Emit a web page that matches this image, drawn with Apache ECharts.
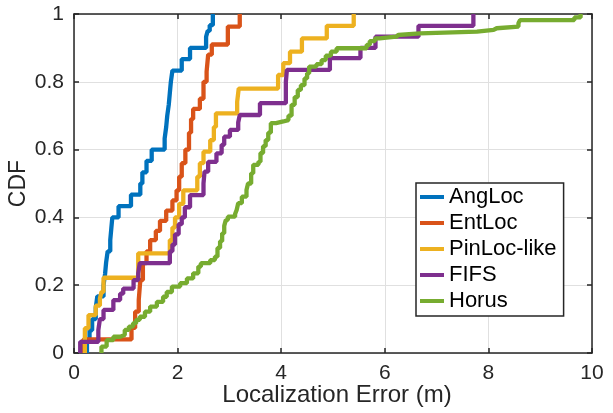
<!DOCTYPE html>
<html>
<head>
<meta charset="utf-8">
<script src="https://cdn.jsdelivr.net/npm/echarts@6/dist/echarts.min.js"></script>
<style>html,body{margin:0;padding:0;background:#fff;}#chart{width:613px;height:413px;}</style>
</head>
<body>
<div id="chart"></div>
<script>
var seriesNames = ['AngLoc', 'EntLoc', 'PinLoc-like', 'FIFS', 'Horus'];
var xTicks = [0, 2, 4, 6, 8, 10];
var yTicks = [0, 0.2, 0.4, 0.6, 0.8, 1];

var angLocX = [0.25, 0.25, 0.30, 0.35, 0.42, 0.45, 0.57, 0.60, 0.62, 0.65, 0.70, 0.72, 0.74, 0.86, 1.10, 1.28, 1.32, 1.40, 1.50, 1.75, 1.78, 1.80, 1.83, 1.85, 1.87, 1.90, 2.08, 2.24, 2.55, 2.58, 2.62, 2.68];
var angLocY = [0, 0.033, 0.067, 0.100, 0.133, 0.167, 0.200, 0.233, 0.267, 0.300, 0.333, 0.367, 0.400, 0.433, 0.467, 0.500, 0.533, 0.567, 0.600, 0.633, 0.667, 0.700, 0.733, 0.767, 0.800, 0.833, 0.867, 0.900, 0.933, 0.950, 0.967, 1.0];

var entLocX = [0.18, 0.18, 1.11, 1.18, 1.25, 1.28, 1.33, 1.40, 1.47, 1.58, 1.66, 1.78, 1.90, 1.98, 2.03, 2.08, 2.15, 2.22, 2.26, 2.30, 2.43, 2.50, 2.56, 2.59, 2.66, 2.97, 3.20];
var entLocY = [0, 0.040, 0.074, 0.122, 0.156, 0.215, 0.265, 0.300, 0.333, 0.360, 0.390, 0.420, 0.450, 0.480, 0.520, 0.560, 0.600, 0.650, 0.690, 0.720, 0.750, 0.800, 0.830, 0.880, 0.910, 0.963, 1.0];

var pinLocX = [0.21, 0.21, 0.28, 0.42, 0.50, 0.53, 0.57, 1.24, 1.85, 1.90, 1.95, 2.03, 2.11, 2.38, 2.43, 2.50, 2.63, 2.70, 2.74, 3.15, 3.18, 3.94, 4.04, 4.17, 4.40, 4.88, 5.40];
var pinLocY = [0, 0.073, 0.112, 0.140, 0.161, 0.180, 0.222, 0.294, 0.333, 0.370, 0.400, 0.440, 0.480, 0.520, 0.560, 0.594, 0.628, 0.667, 0.707, 0.741, 0.780, 0.820, 0.855, 0.889, 0.928, 0.965, 1.0];

var fifsX = [0.12, 0.12, 0.47, 0.50, 0.57, 0.76, 0.89, 0.95, 1.15, 1.24, 1.27, 1.85, 1.90, 1.95, 2.02, 2.08, 2.14, 2.24, 2.50, 2.52, 2.59, 2.75, 2.85, 2.90, 3.01, 3.17, 3.20, 3.59, 4.09, 4.11, 4.94, 5.53, 5.82, 6.65, 7.71];
var fifsY = [0, 0.033, 0.068, 0.100, 0.127, 0.156, 0.175, 0.190, 0.215, 0.235, 0.265, 0.300, 0.320, 0.350, 0.380, 0.400, 0.430, 0.466, 0.500, 0.535, 0.564, 0.589, 0.614, 0.638, 0.658, 0.680, 0.702, 0.737, 0.800, 0.835, 0.870, 0.900, 0.933, 0.965, 1.0];

var horusX = [0.53, 0.53, 0.63, 0.76, 0.89, 0.98, 1.06, 1.14, 1.20, 1.27, 1.37, 1.47, 1.60, 1.72, 1.79, 1.89, 2.05, 2.18, 2.30, 2.40, 2.45, 2.63, 2.72, 2.77, 2.82, 2.86, 2.90, 2.93, 2.97, 3.11, 3.14, 3.17, 3.24, 3.33, 3.36, 3.42, 3.46, 3.56, 3.60, 3.65, 3.70, 3.75, 3.80, 3.90, 4.04, 4.14, 4.20, 4.26, 4.32, 4.38, 4.45, 4.50, 4.54, 4.68, 4.78, 4.86, 4.96, 5.07, 5.65, 5.71, 5.81, 5.90, 6.22, 6.26, 6.68, 7.78, 8.10, 8.16, 8.58, 8.61, 9.66, 9.78];
var horusY = [0, 0.019, 0.038, 0.048, 0.053, 0.068, 0.078, 0.088, 0.098, 0.107, 0.122, 0.137, 0.151, 0.166, 0.180, 0.196, 0.206, 0.220, 0.235, 0.255, 0.265, 0.274, 0.284, 0.310, 0.330, 0.353, 0.375, 0.392, 0.402, 0.410, 0.422, 0.442, 0.461, 0.481, 0.500, 0.530, 0.555, 0.564, 0.590, 0.610, 0.628, 0.650, 0.678, 0.683, 0.687, 0.700, 0.732, 0.755, 0.776, 0.790, 0.810, 0.825, 0.845, 0.852, 0.864, 0.877, 0.889, 0.899, 0.909, 0.920, 0.928, 0.933, 0.938, 0.943, 0.948, 0.953, 0.958, 0.963, 0.973, 0.982, 0.990, 1.0];

var colors = ['#0072BD', '#D95319', '#EDB120', '#7E2F8E', '#77AC30'];
var allX = [angLocX, entLocX, pinLocX, fifsX, horusX];
var allY = [angLocY, entLocY, pinLocY, fifsY, horusY];

function pairs(xs, ys) { return xs.map(function (x, i) { return [x, ys[i]]; }); }

var FONT = 'Liberation Sans, Arial, Helvetica, sans-serif';
var AX = '#262626';

var series = seriesNames.map(function (name, i) {
  return {
    name: name,
    type: 'line',
    step: 'end',
    showSymbol: false,
    symbol: 'none',
    data: pairs(allX[i], allY[i]),
    color: colors[i],
    lineStyle: { width: 4.3, color: colors[i] },
    xAxisIndex: 0,
    yAxisIndex: 0
  };
});

var chart = echarts.init(document.getElementById('chart'), null, { renderer: 'canvas' });
chart.setOption({
  animation: false,
  backgroundColor: '#fff',
  grid: { left: 74, right: 21, top: 14, bottom: 60, containLabel: false, outerBoundsMode: 'none' },
  xAxis: [{
    type: 'value', min: xTicks[0], max: xTicks[xTicks.length - 1], interval: 2,
    name: 'Localization Error (m)', nameLocation: 'middle', nameGap: 30, nameMoveOverlap: false,
    nameTextStyle: { fontFamily: FONT, fontSize: 24, color: AX, padding: [0, 0, 0, 8] },
    axisLine: { show: true, lineStyle: { color: AX, width: 1.5 } },
    axisTick: { show: true, inside: true, length: 5, lineStyle: { color: AX, width: 1.5 } },
    axisLabel: { fontFamily: FONT, fontSize: 21, color: AX, margin: 10 },
    splitLine: { show: true, lineStyle: { color: '#e0e0e0', width: 1 } }
  }, {
    type: 'value', position: 'top', min: xTicks[0], max: xTicks[xTicks.length - 1], interval: 2,
    axisLine: { show: true, onZero: false, lineStyle: { color: AX, width: 1.5 } },
    axisTick: { show: true, inside: true, length: 5, lineStyle: { color: AX, width: 1.5 } },
    axisLabel: { show: false },
    splitLine: { show: false }
  }],
  yAxis: [{
    type: 'value', min: yTicks[0], max: yTicks[yTicks.length - 1], interval: 0.2,
    name: 'CDF', nameLocation: 'middle', nameGap: 44, nameRotate: 90, nameMoveOverlap: false,
    nameTextStyle: { fontFamily: FONT, fontSize: 23, color: AX },
    axisLine: { show: true, lineStyle: { color: AX, width: 1.5 } },
    axisTick: { show: true, inside: true, length: 5, lineStyle: { color: AX, width: 1.5 } },
    axisLabel: { fontFamily: FONT, fontSize: 21, color: AX, margin: 10 },
    splitLine: { show: true, lineStyle: { color: '#e0e0e0', width: 1 } }
  }, {
    type: 'value', position: 'right', min: yTicks[0], max: yTicks[yTicks.length - 1], interval: 0.2,
    axisLine: { show: true, onZero: false, lineStyle: { color: AX, width: 1.5 } },
    axisTick: { show: true, inside: true, length: 5, lineStyle: { color: AX, width: 1.5 } },
    axisLabel: { show: false },
    splitLine: { show: false }
  }],
  legend: {
    orient: 'vertical', left: 416, top: 183,
    data: seriesNames,
    icon: 'rect', itemWidth: 24, itemHeight: 4, itemGap: 0,
    padding: [1, 7, 2, 4],
    backgroundColor: '#fff', borderColor: AX, borderWidth: 1.5,
    textStyle: { fontFamily: FONT, fontSize: 22, color: '#000', lineHeight: 26 }
  },
  series: series
});
</script>
</body>
</html>
